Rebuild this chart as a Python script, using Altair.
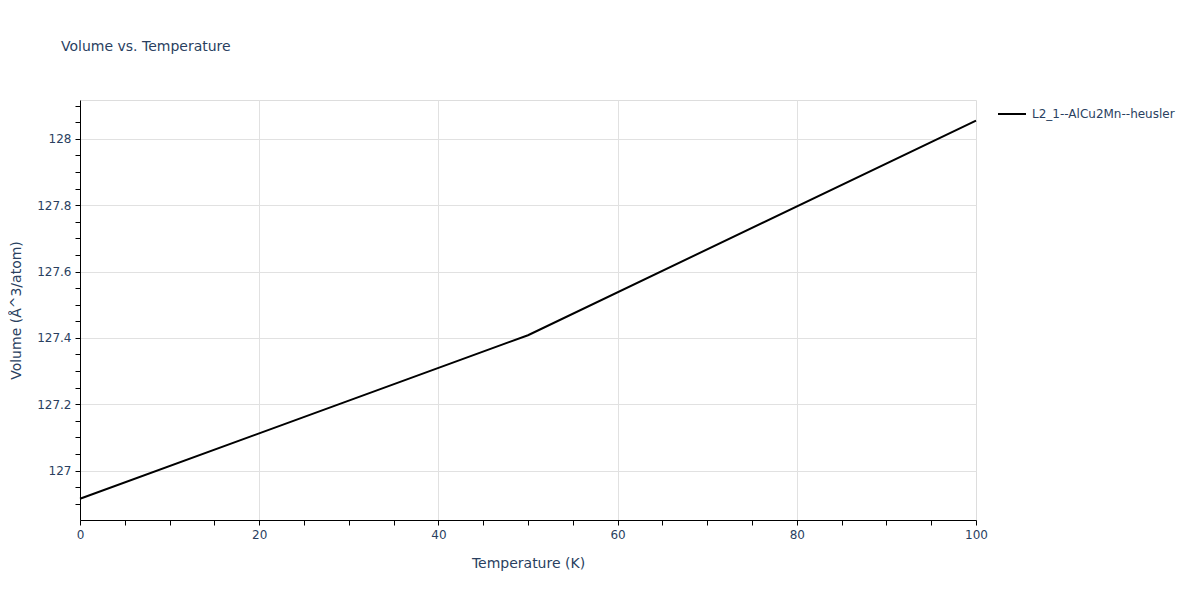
import altair as alt
import pandas as pd

# Data
temperature = [0, 50, 100]
volume = [126.915, 127.408, 128.055]
series_name = "L2_1--AlCu2Mn--heusler"

# Tick positions (major + minor)
x_ticks = list(range(0, 101, 5))
y_ticks = [round(126.85 + 0.05 * i, 2) for i in range(26)]

df = pd.DataFrame({
    "Temperature": temperature,
    "Volume": volume,
    "series": [series_name] * len(temperature),
})

FONT = "DejaVu Sans"
TEXT = "#2a3f5f"
GRID = "#e1e1e1"

x_major = "datum.value % 20 === 0"
y_major = "abs(datum.value * 5 - round(datum.value * 5)) < 1e-6"

x_axis = alt.Axis(
    values=x_ticks,
    labelExpr=f"{x_major} ? datum.label : ''",
    format="d",
    grid=True,
    gridColor=GRID,
    gridOpacity={"condition": {"test": f"{x_major} && datum.value > 0 && datum.value < 100", "value": 1}, "value": 0},
    domainColor="black",
    domainWidth=1,
    tickColor="black",
    tickSize=5,
    labelFont=FONT,
    labelFontSize=12,
    labelColor=TEXT,
    labelPadding=4,
    labelFlush=False,
    title="Temperature (K)",
    titleFont=FONT,
    titleFontSize=14,
    titleFontWeight="normal",
    titleColor=TEXT,
    titlePadding=16,
)

y_axis = alt.Axis(
    values=y_ticks,
    labelExpr=f"{y_major} ? datum.label : ''",
    format=".1~f",
    grid=True,
    gridColor=GRID,
    gridOpacity={"condition": {"test": y_major, "value": 1}, "value": 0},
    domainColor="black",
    domainWidth=1,
    tickColor="black",
    tickSize=5,
    labelFont=FONT,
    labelFontSize=12,
    labelColor=TEXT,
    labelPadding=4,
    labelFlush=False,
    title="Volume (Å^3/atom)",
    titleFont=FONT,
    titleFontSize=14,
    titleFontWeight="normal",
    titleColor=TEXT,
    titleX=-57,
    titleY=210,
    titleAngle=-90,
    titleAlign="center",
)

chart = alt.Chart(df).mark_line(strokeWidth=2).encode(
    x=alt.X("Temperature:Q", scale=alt.Scale(domain=[0, 100], nice=False, zero=False), axis=x_axis),
    y=alt.Y("Volume:Q", scale=alt.Scale(domain=[126.851, 128.117], nice=False, zero=False), axis=y_axis),
    color=alt.Color(
        "series:N",
        scale=alt.Scale(domain=[series_name], range=["black"]),
        legend=alt.Legend(
            title=None,
            orient="none",
            legendX=917,
            legendY=-1,
            symbolType="stroke",
            symbolStrokeWidth=2,
            symbolSize=784,
            labelFont=FONT,
            labelFontSize=12,
            labelColor=TEXT,
            labelOffset=5,
            padding=0,
        ),
    ),
).properties(
    width=896,
    height=420,
    autosize=alt.AutoSizeParams(type="none"),
    padding={"left": 72, "top": 92, "right": 216, "bottom": 72},
    title=alt.TitleParams(
        "Volume vs. Temperature",
        anchor="start",
        frame="group",
        dx=-19,
        offset=45,
        font=FONT,
        fontSize=14,
        fontWeight="normal",
        color=TEXT,
    ),
).configure_view(stroke="transparent").configure(background="white")

chart.save("out.html", embed_options={"renderer": "svg", "actions": False})
